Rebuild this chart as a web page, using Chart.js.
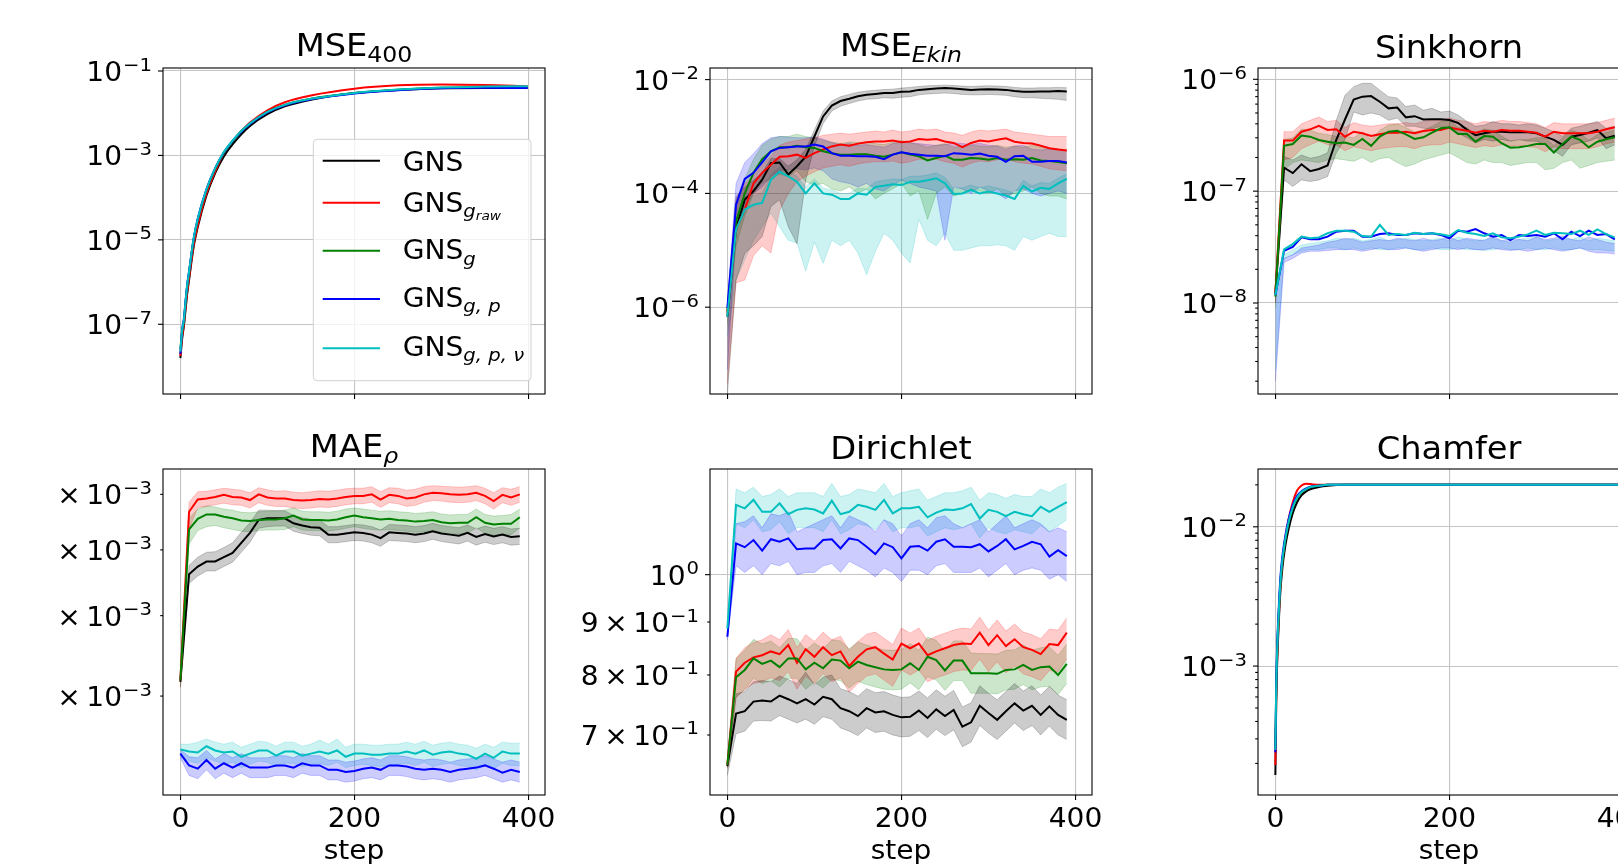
<!DOCTYPE html>
<html>
<head>
<meta charset="utf-8">
<script src="https://cdn.jsdelivr.net/npm/chart.js@4.4.0/dist/chart.umd.min.js"></script>
<style>
  html, body { margin: 0; padding: 0; background: #fff; width: 1618px; height: 864px; overflow: hidden; }
  canvas { position: absolute; }
</style>
</head>
<body>
<script>
// rollout steps (sampled every 10 steps)
const steps = [0, 10, 20, 30, 40, 50, 60, 70, 80, 90, 100, 110, 120, 130, 140, 150, 160, 170, 180, 190,
  200, 210, 220, 230, 240, 250, 260, 270, 280, 290, 300, 310, 320, 330, 340, 350, 360, 370, 380, 390];
const xTicks = [0, 200, 400];

// ---- MSE_400 (cumulative, smooth) ----
const mseSteps = [0, 2, 4, 6, 8, 10, 15, 20, 30, 40, 50, 60, 70, 80, 100, 120, 150, 200, 250, 300, 350, 399];
const mseGns = [1.58e-8, 4.47e-8, 8.9e-8, 2.24e-7, 5.6e-7, 1.12e-6, 6.3e-6, 2.0e-5, 1.12e-4, 3.8e-4, 9.5e-4, 1.82e-3, 3.16e-3, 5.0e-3, 9.5e-3, 1.45e-2, 2.09e-2, 3.02e-2, 3.55e-2, 3.9e-2, 3.98e-2, 3.98e-2];
const mseGraw = [1.78e-8, 5.0e-8, 1.0e-7, 2.5e-7, 6.3e-7, 1.26e-6, 7.1e-6, 2.24e-5, 1.26e-4, 4.2e-4, 1.12e-3, 2.19e-3, 3.8e-3, 6.0e-3, 1.17e-2, 1.82e-2, 2.63e-2, 3.8e-2, 4.57e-2, 4.79e-2, 4.68e-2, 4.37e-2];
const mseG = [2.6e-8, 6.8e-8, 1.2e-7, 3.4e-7, 8.5e-7, 1.7e-6, 9.5e-6, 3.0e-5, 1.5e-4, 4.8e-4, 1.15e-3, 2.15e-3, 3.7e-3, 5.6e-3, 1.06e-2, 1.57e-2, 2.2e-2, 3.0e-2, 3.6e-2, 4.0e-2, 4.15e-2, 4.2e-2];
const mseGp = [2.0e-8, 7.5e-8, 1.3e-7, 3.7e-7, 9.2e-7, 1.8e-6, 1.0e-5, 3.2e-5, 1.6e-4, 5.0e-4, 1.18e-3, 2.2e-3, 3.7e-3, 5.6e-3, 1.05e-2, 1.55e-2, 2.15e-2, 2.95e-2, 3.5e-2, 3.9e-2, 4.0e-2, 3.95e-2];
const mseGpn = [2.24e-8, 7.08e-8, 1.26e-7, 3.55e-7, 8.9e-7, 1.78e-6, 1.0e-5, 3.16e-5, 1.58e-4, 5.0e-4, 1.2e-3, 2.24e-3, 3.8e-3, 5.75e-3, 1.07e-2, 1.58e-2, 2.19e-2, 3.02e-2, 3.63e-2, 4.07e-2, 4.27e-2, 4.37e-2];

// ---- MSE_Ekin ----
const ekinGns = [6.8e-7, 2.45e-5, 7.8e-5, 1.1e-4, 1.74e-4, 3.4e-4, 3.5e-4, 2.15e-4, 3.0e-4, 4.4e-4, 1.0e-3, 2.25e-3, 3.5e-3, 4.2e-3, 4.6e-3, 5.1e-3, 5.4e-3, 5.6e-3, 5.8e-3, 5.8e-3, 6.1e-3, 6.2e-3, 6.6e-3, 6.8e-3, 7.0e-3, 7.1e-3, 7.0e-3, 6.8e-3, 6.6e-3, 6.7e-3, 6.8e-3, 6.7e-3, 6.6e-3, 6.3e-3, 6.1e-3, 6.1e-3, 6.2e-3, 6.2e-3, 6.3e-3, 6.2e-3];
const ekinGnsHi = [1.0e-6, 8.9e-5, 1.3e-4, 1.7e-4, 2.3e-4, 4.1e-4, 4.1e-4, 3.0e-4, 3.9e-4, 5.9e-4, 1.3e-3, 2.8e-3, 4.2e-3, 5.0e-3, 5.5e-3, 6.0e-3, 6.3e-3, 6.5e-3, 6.7e-3, 6.8e-3, 7.1e-3, 7.3e-3, 7.6e-3, 7.8e-3, 7.9e-3, 8.0e-3, 7.9e-3, 7.7e-3, 7.6e-3, 7.7e-3, 7.8e-3, 7.7e-3, 7.6e-3, 7.3e-3, 7.1e-3, 7.1e-3, 7.2e-3, 7.2e-3, 7.3e-3, 7.2e-3];
const ekinGnsLo = [3.0e-8, 3.0e-6, 8.9e-6, 1.2e-5, 1.75e-5, 5.9e-5, 7.7e-5, 2.6e-5, 1.3e-5, 1.7e-4, 6.7e-4, 1.7e-3, 2.8e-3, 3.4e-3, 3.8e-3, 4.2e-3, 4.5e-3, 4.6e-3, 4.8e-3, 4.7e-3, 4.9e-3, 5.0e-3, 5.4e-3, 5.6e-3, 5.7e-3, 5.8e-3, 5.7e-3, 5.5e-3, 5.4e-3, 5.4e-3, 5.5e-3, 5.4e-3, 5.3e-3, 5.0e-3, 4.8e-3, 4.8e-3, 4.7e-3, 4.6e-3, 4.5e-3, 4.3e-3];
const ekinGraw = [8.0e-7, 2.3e-5, 5.2e-5, 1.5e-4, 2.3e-4, 3.2e-4, 4.4e-4, 4.5e-4, 4.8e-4, 4.2e-4, 5.1e-4, 5.9e-4, 6.7e-4, 7.2e-4, 6.9e-4, 7.5e-4, 7.9e-4, 8.2e-4, 8.2e-4, 8.5e-4, 7.9e-4, 8.2e-4, 9.0e-4, 8.8e-4, 9.0e-4, 8.2e-4, 7.7e-4, 6.5e-4, 7.7e-4, 8.5e-4, 8.2e-4, 8.8e-4, 9.3e-4, 8.1e-4, 7.7e-4, 7.5e-4, 6.9e-4, 6.2e-4, 5.9e-4, 5.7e-4];
const ekinGrawHi = [1.0e-6, 7.8e-5, 1.5e-4, 2.0e-4, 3.2e-4, 4.5e-4, 7.0e-4, 8.0e-4, 8.5e-4, 9.0e-4, 9.5e-4, 1.05e-3, 1.1e-3, 1.15e-3, 1.1e-3, 1.15e-3, 1.2e-3, 1.25e-3, 1.2e-3, 1.3e-3, 1.2e-3, 1.25e-3, 1.35e-3, 1.3e-3, 1.35e-3, 1.2e-3, 1.15e-3, 1.05e-3, 1.2e-3, 1.3e-3, 1.25e-3, 1.3e-3, 1.35e-3, 1.2e-3, 1.15e-3, 1.1e-3, 1.05e-3, 1.0e-3, 1.0e-3, 1.0e-3];
const ekinGrawLo = [4.6e-8, 2.7e-6, 3.0e-6, 8.0e-6, 1.2e-5, 9.0e-6, 5.0e-5, 1.0e-4, 1.6e-4, 2.0e-4, 2.4e-4, 2.8e-4, 3.0e-4, 3.2e-4, 3.0e-4, 3.3e-4, 3.5e-4, 3.6e-4, 3.6e-4, 3.7e-4, 3.4e-4, 3.6e-4, 4.0e-4, 3.9e-4, 4.0e-4, 3.6e-4, 3.4e-4, 2.9e-4, 3.4e-4, 3.7e-4, 3.6e-4, 3.9e-4, 4.1e-4, 3.6e-4, 3.4e-4, 3.3e-4, 3.0e-4, 2.7e-4, 2.6e-4, 2.5e-4];
const ekinG = [8.5e-7, 3.2e-5, 1.0e-4, 2.3e-4, 4.0e-4, 5.5e-4, 6.5e-4, 6.5e-4, 6.9e-4, 6.5e-4, 6.3e-4, 5.5e-4, 5.1e-4, 4.8e-4, 4.8e-4, 4.9e-4, 4.9e-4, 4.6e-4, 4.4e-4, 4.8e-4, 5.3e-4, 4.8e-4, 4.5e-4, 3.8e-4, 4.2e-4, 4.6e-4, 3.9e-4, 3.9e-4, 4.2e-4, 4.1e-4, 3.9e-4, 4.2e-4, 3.9e-4, 4.0e-4, 3.9e-4, 4.2e-4, 3.8e-4, 3.7e-4, 3.55e-4, 3.4e-4];
const ekinGHi = [1.1e-6, 6.0e-5, 1.8e-4, 4.0e-4, 7.0e-4, 9.0e-4, 1.0e-3, 1.0e-3, 1.1e-3, 1.0e-3, 9.5e-4, 8.5e-4, 8.0e-4, 7.5e-4, 8.0e-4, 7.8e-4, 8.0e-4, 7.5e-4, 7.2e-4, 8.0e-4, 8.5e-4, 7.8e-4, 7.2e-4, 6.5e-4, 7.0e-4, 7.5e-4, 6.5e-4, 6.6e-4, 7.0e-4, 6.8e-4, 6.6e-4, 7.0e-4, 6.5e-4, 6.8e-4, 6.5e-4, 7.0e-4, 6.4e-4, 6.2e-4, 6.0e-4, 5.8e-4];
const ekinGLo = [5.0e-7, 1.2e-5, 4.0e-5, 1.0e-4, 1.5e-4, 1.8e-4, 2.2e-4, 2.0e-4, 2.5e-4, 1.6e-4, 1.4e-4, 1.5e-4, 1.2e-4, 1.1e-4, 1.3e-4, 1.0e-4, 1.2e-4, 8.0e-5, 1.0e-4, 1.2e-4, 1.5e-4, 9.0e-5, 1.1e-4, 3.5e-5, 1.0e-4, 1.3e-4, 9.0e-5, 1.0e-4, 1.2e-4, 1.1e-4, 1.0e-4, 1.2e-4, 9.0e-5, 1.0e-4, 1.1e-4, 1.3e-4, 1.0e-4, 9.0e-5, 9.0e-5, 8.0e-5];
const ekinGp = [9.6e-7, 6.3e-5, 1.8e-4, 2.3e-4, 3.5e-4, 5.5e-4, 6.3e-4, 6.5e-4, 6.7e-4, 6.7e-4, 7.2e-4, 6.7e-4, 5.1e-4, 4.6e-4, 4.6e-4, 4.5e-4, 4.5e-4, 4.4e-4, 4.0e-4, 4.8e-4, 5.3e-4, 5.0e-4, 4.8e-4, 4.6e-4, 4.6e-4, 4.5e-4, 5.1e-4, 5.0e-4, 4.8e-4, 5.0e-4, 4.6e-4, 4.4e-4, 3.6e-4, 4.5e-4, 4.6e-4, 3.6e-4, 3.6e-4, 3.7e-4, 3.7e-4, 3.5e-4];
const ekinGpHi = [1.2e-6, 1.5e-4, 3.5e-4, 5.0e-4, 7.5e-4, 9.5e-4, 1.0e-3, 9.8e-4, 9.5e-4, 9.5e-4, 9.8e-4, 9.0e-4, 7.8e-4, 7.2e-4, 7.5e-4, 7.0e-4, 7.2e-4, 6.8e-4, 6.5e-4, 7.5e-4, 8.0e-4, 7.8e-4, 7.5e-4, 7.2e-4, 7.0e-4, 7.2e-4, 7.8e-4, 7.5e-4, 7.2e-4, 7.6e-4, 7.0e-4, 6.8e-4, 6.0e-4, 6.8e-4, 7.0e-4, 6.0e-4, 5.8e-4, 6.0e-4, 6.0e-4, 5.8e-4];
const ekinGpLo = [8.0e-8, 2.0e-5, 6.0e-5, 1.0e-4, 1.3e-4, 2.0e-4, 2.5e-4, 2.6e-4, 2.7e-4, 2.6e-4, 2.8e-4, 2.5e-4, 1.8e-4, 1.6e-4, 1.5e-4, 1.3e-4, 1.5e-4, 1.2e-4, 1.1e-4, 1.4e-4, 1.7e-4, 1.5e-4, 1.3e-4, 1.2e-4, 1.1e-4, 1.5e-5, 1.3e-4, 1.2e-4, 1.0e-4, 1.3e-4, 1.1e-4, 1.0e-4, 8.0e-5, 1.1e-4, 1.2e-4, 1.0e-4, 9.0e-5, 1.0e-4, 1.1e-4, 1.0e-4];
const ekinGpn = [6.8e-7, 2.3e-5, 5.2e-5, 6.3e-5, 6.8e-5, 1.73e-4, 2.4e-4, 2.0e-4, 1.6e-4, 1.0e-4, 1.5e-4, 1.0e-4, 9.5e-5, 8.0e-5, 8.0e-5, 1.0e-4, 9.5e-5, 1.3e-4, 1.36e-4, 1.45e-4, 1.4e-4, 1.6e-4, 1.6e-4, 1.7e-4, 1.85e-4, 1.5e-4, 9.8e-5, 1.0e-4, 1.15e-4, 1.0e-4, 1.08e-4, 1.0e-4, 9.2e-5, 8.0e-5, 1.36e-4, 1.08e-4, 1.25e-4, 1.2e-4, 1.5e-4, 1.8e-4];
const ekinGpnHi = [9.0e-7, 3.5e-5, 7.0e-5, 9.0e-5, 1.0e-4, 2.1e-4, 2.9e-4, 2.5e-4, 2.0e-4, 1.3e-4, 1.8e-4, 1.25e-4, 1.15e-4, 1.0e-4, 1.0e-4, 1.25e-4, 1.2e-4, 1.6e-4, 1.7e-4, 1.8e-4, 1.75e-4, 2.0e-4, 2.0e-4, 2.1e-4, 2.3e-4, 1.9e-4, 1.2e-4, 1.25e-4, 1.4e-4, 1.25e-4, 1.35e-4, 1.25e-4, 1.15e-4, 1.0e-4, 1.7e-4, 1.35e-4, 1.55e-4, 1.5e-4, 1.85e-4, 2.2e-4];
const ekinGpnLo = [3.0e-7, 3.0e-6, 6.8e-6, 1.5e-5, 2.6e-5, 4.5e-5, 2.6e-5, 1.5e-5, 1.35e-5, 4.3e-6, 1.4e-5, 5.9e-6, 1.5e-5, 1.2e-5, 1.5e-5, 9.0e-6, 3.7e-6, 9.5e-6, 2.0e-5, 1.5e-5, 8.9e-6, 6.0e-6, 3.5e-5, 1.5e-5, 1.2e-5, 2.0e-5, 1.0e-5, 1.0e-5, 1.1e-5, 1.2e-5, 1.2e-5, 1.25e-5, 1.2e-5, 1.0e-5, 1.75e-5, 1.5e-5, 1.75e-5, 2.0e-5, 1.75e-5, 1.75e-5];

// ---- Sinkhorn ----
const sinkGns = [1.23e-8, 1.62e-7, 1.45e-7, 1.74e-7, 1.51e-7, 1.58e-7, 1.7e-7, 2.88e-7, 4.37e-7, 6.6e-7, 7.0e-7, 7.08e-7, 6.3e-7, 5.5e-7, 5.6e-7, 4.57e-7, 4.68e-7, 4.37e-7, 4.4e-7, 4.4e-7, 4.33e-7, 4.07e-7, 3.55e-7, 3.16e-7, 3.3e-7, 3.4e-7, 3.4e-7, 3.36e-7, 3.36e-7, 3.36e-7, 3.29e-7, 3.07e-7, 2.87e-7, 2.59e-7, 3.07e-7, 3.18e-7, 3.33e-7, 3.52e-7, 2.97e-7, 3.13e-7];
const sinkGnsHi = [1.4e-8, 2.04e-7, 1.9e-7, 2.1e-7, 1.97e-7, 2.04e-7, 2.2e-7, 4.3e-7, 7.2e-7, 8.6e-7, 9.2e-7, 9.2e-7, 8.0e-7, 7.0e-7, 6.8e-7, 5.7e-7, 5.9e-7, 5.3e-7, 5.5e-7, 5.1e-7, 5.2e-7, 4.8e-7, 4.2e-7, 3.8e-7, 3.9e-7, 4.2e-7, 4.0e-7, 4.0e-7, 3.9e-7, 4.0e-7, 3.9e-7, 3.65e-7, 3.4e-7, 3.1e-7, 3.65e-7, 3.8e-7, 4.0e-7, 4.2e-7, 3.65e-7, 3.8e-7];
const sinkGnsLo = [1.0e-8, 1.26e-7, 1.1e-7, 1.26e-7, 1.22e-7, 1.26e-7, 1.35e-7, 2.2e-7, 2.9e-7, 5.1e-7, 4.8e-7, 5.0e-7, 4.8e-7, 4.3e-7, 4.5e-7, 3.8e-7, 3.8e-7, 3.65e-7, 3.6e-7, 3.8e-7, 3.65e-7, 3.3e-7, 3.0e-7, 2.7e-7, 2.9e-7, 2.8e-7, 2.9e-7, 2.8e-7, 2.9e-7, 2.8e-7, 2.8e-7, 2.6e-7, 2.3e-7, 2.05e-7, 2.6e-7, 2.7e-7, 2.8e-7, 3.0e-7, 2.4e-7, 2.6e-7];
const sinkGraw = [1.22e-8, 2.83e-7, 2.83e-7, 3.4e-7, 3.57e-7, 3.83e-7, 3.52e-7, 3.57e-7, 3.07e-7, 3.4e-7, 3.29e-7, 3.11e-7, 3.22e-7, 3.33e-7, 3.33e-7, 3.4e-7, 3.29e-7, 3.45e-7, 3.52e-7, 3.52e-7, 3.7e-7, 3.57e-7, 3.47e-7, 3.33e-7, 3.47e-7, 3.4e-7, 3.52e-7, 3.47e-7, 3.47e-7, 3.4e-7, 3.33e-7, 3.07e-7, 3.4e-7, 3.29e-7, 3.29e-7, 3.29e-7, 3.29e-7, 3.4e-7, 3.57e-7, 3.72e-7];
const sinkGrawHi = [1.4e-8, 3.4e-7, 3.4e-7, 4.0e-7, 4.3e-7, 4.6e-7, 4.2e-7, 4.3e-7, 3.7e-7, 4.1e-7, 3.9e-7, 3.8e-7, 3.9e-7, 4.0e-7, 4.0e-7, 4.1e-7, 4.0e-7, 4.2e-7, 4.3e-7, 4.3e-7, 4.5e-7, 4.3e-7, 4.2e-7, 4.0e-7, 4.2e-7, 4.1e-7, 4.3e-7, 4.2e-7, 4.2e-7, 4.1e-7, 4.0e-7, 3.7e-7, 4.1e-7, 4.0e-7, 4.0e-7, 4.0e-7, 4.0e-7, 4.1e-7, 4.3e-7, 4.5e-7];
const sinkGrawLo = [1.0e-8, 1.9e-7, 2.0e-7, 2.4e-7, 2.6e-7, 2.8e-7, 2.6e-7, 2.6e-7, 2.3e-7, 2.5e-7, 2.4e-7, 2.3e-7, 2.4e-7, 2.45e-7, 2.5e-7, 2.5e-7, 2.4e-7, 2.55e-7, 2.6e-7, 2.6e-7, 2.75e-7, 2.65e-7, 2.55e-7, 2.45e-7, 2.55e-7, 2.5e-7, 2.6e-7, 2.55e-7, 2.55e-7, 2.5e-7, 2.45e-7, 2.25e-7, 2.5e-7, 2.4e-7, 2.4e-7, 2.4e-7, 2.4e-7, 2.5e-7, 2.65e-7, 2.75e-7];
const sinkG = [1.14e-8, 2.54e-7, 2.64e-7, 3.14e-7, 3.07e-7, 2.87e-7, 2.77e-7, 2.68e-7, 2.72e-7, 2.59e-7, 2.93e-7, 2.54e-7, 3.07e-7, 3.4e-7, 3.47e-7, 3.22e-7, 2.93e-7, 3.03e-7, 3.33e-7, 3.65e-7, 3.72e-7, 3.24e-7, 3.24e-7, 2.77e-7, 3.11e-7, 3.07e-7, 2.68e-7, 2.45e-7, 2.47e-7, 2.54e-7, 2.64e-7, 2.64e-7, 2.21e-7, 2.64e-7, 3.07e-7, 2.87e-7, 2.47e-7, 2.77e-7, 2.91e-7, 3.03e-7];
const sinkGHi = [1.3e-8, 2.9e-7, 3.0e-7, 3.6e-7, 3.5e-7, 3.3e-7, 3.2e-7, 3.1e-7, 3.1e-7, 3.0e-7, 3.4e-7, 2.9e-7, 3.5e-7, 3.9e-7, 4.0e-7, 3.7e-7, 3.4e-7, 3.5e-7, 3.8e-7, 4.2e-7, 4.3e-7, 3.7e-7, 3.7e-7, 3.2e-7, 3.6e-7, 3.5e-7, 3.1e-7, 2.8e-7, 2.85e-7, 2.9e-7, 3.0e-7, 3.0e-7, 2.55e-7, 3.0e-7, 3.5e-7, 3.3e-7, 2.85e-7, 3.2e-7, 3.35e-7, 3.5e-7];
const sinkGLo = [9.0e-9, 1.55e-7, 1.8e-7, 1.9e-7, 1.85e-7, 1.8e-7, 1.9e-7, 1.95e-7, 1.9e-7, 1.85e-7, 2.0e-7, 1.8e-7, 1.95e-7, 2.0e-7, 1.8e-7, 1.66e-7, 1.75e-7, 1.9e-7, 2.0e-7, 2.1e-7, 2.2e-7, 2.0e-7, 1.8e-7, 1.75e-7, 1.9e-7, 1.8e-7, 1.8e-7, 1.7e-7, 1.75e-7, 1.8e-7, 1.8e-7, 1.55e-7, 1.6e-7, 1.8e-7, 1.9e-7, 1.6e-7, 1.7e-7, 1.8e-7, 1.85e-7, 1.9e-7];
const sinkGp = [1.18e-8, 2.93e-8, 3.18e-8, 3.86e-8, 3.71e-8, 3.71e-8, 3.92e-8, 4.34e-8, 4.43e-8, 4.43e-8, 3.92e-8, 3.92e-8, 4.13e-8, 4.2e-8, 4.06e-8, 4.06e-8, 4.2e-8, 4.13e-8, 4.2e-8, 4.06e-8, 3.79e-8, 4.43e-8, 4.34e-8, 4.58e-8, 4.2e-8, 3.92e-8, 4.06e-8, 3.66e-8, 4.06e-8, 3.97e-8, 4.06e-8, 3.92e-8, 4.2e-8, 3.71e-8, 4.34e-8, 3.97e-8, 4.43e-8, 4.06e-8, 4.13e-8, 3.71e-8];
const sinkGpHi = [1.3e-8, 2.5e-8, 2.7e-8, 3.1e-8, 3.2e-8, 3.3e-8, 3.5e-8, 3.6e-8, 3.8e-8, 3.7e-8, 3.5e-8, 3.6e-8, 3.7e-8, 3.6e-8, 3.8e-8, 3.7e-8, 3.6e-8, 3.8e-8, 3.6e-8, 3.7e-8, 3.9e-8, 3.6e-8, 3.8e-8, 3.7e-8, 3.6e-8, 4.0e-8, 3.6e-8, 3.8e-8, 3.7e-8, 3.6e-8, 3.9e-8, 3.7e-8, 3.8e-8, 4.0e-8, 3.7e-8, 3.6e-8, 3.9e-8, 3.7e-8, 3.5e-8, 3.4e-8];
const sinkGpLo = [2.0e-9, 2.3e-8, 2.5e-8, 2.8e-8, 2.9e-8, 2.9e-8, 2.95e-8, 3.0e-8, 3.0e-8, 3.0e-8, 2.9e-8, 3.0e-8, 3.1e-8, 3.0e-8, 3.0e-8, 3.1e-8, 3.0e-8, 2.9e-8, 3.0e-8, 3.1e-8, 3.1e-8, 3.0e-8, 3.1e-8, 3.0e-8, 3.0e-8, 3.1e-8, 3.0e-8, 2.95e-8, 3.0e-8, 2.9e-8, 3.0e-8, 3.1e-8, 3.0e-8, 2.9e-8, 3.0e-8, 3.1e-8, 2.9e-8, 2.8e-8, 2.8e-8, 2.75e-8];
const sinkGpn = [1.18e-8, 3.01e-8, 3.36e-8, 3.92e-8, 3.79e-8, 3.86e-8, 4.2e-8, 4.43e-8, 4.43e-8, 4.34e-8, 3.97e-8, 3.92e-8, 5.0e-8, 4.06e-8, 4.13e-8, 4.06e-8, 4.25e-8, 4.13e-8, 4.2e-8, 4.11e-8, 3.97e-8, 4.49e-8, 4.25e-8, 4.13e-8, 3.97e-8, 4.2e-8, 3.86e-8, 3.79e-8, 3.92e-8, 4.11e-8, 4.43e-8, 4.06e-8, 4.25e-8, 4.2e-8, 4.13e-8, 4.43e-8, 4.06e-8, 4.55e-8, 4.13e-8, 3.86e-8];
const sinkGpnHi = [1.3e-8, 2.7e-8, 3.0e-8, 3.3e-8, 3.4e-8, 3.5e-8, 3.6e-8, 3.8e-8, 3.7e-8, 3.8e-8, 3.6e-8, 3.7e-8, 3.9e-8, 3.6e-8, 3.7e-8, 3.8e-8, 3.7e-8, 3.6e-8, 3.7e-8, 3.8e-8, 3.6e-8, 3.9e-8, 3.7e-8, 3.6e-8, 3.7e-8, 3.8e-8, 3.6e-8, 3.5e-8, 3.7e-8, 3.8e-8, 3.9e-8, 3.6e-8, 3.7e-8, 3.8e-8, 3.7e-8, 3.9e-8, 3.6e-8, 3.8e-8, 3.7e-8, 3.6e-8];
const sinkGpnLo = [2.5e-9, 2.5e-8, 2.7e-8, 2.9e-8, 3.0e-8, 3.0e-8, 3.1e-8, 3.1e-8, 3.0e-8, 3.1e-8, 3.0e-8, 3.1e-8, 3.0e-8, 3.0e-8, 3.1e-8, 3.1e-8, 3.0e-8, 3.0e-8, 3.1e-8, 3.0e-8, 3.0e-8, 3.1e-8, 3.0e-8, 3.0e-8, 2.95e-8, 3.0e-8, 3.1e-8, 3.0e-8, 3.0e-8, 3.1e-8, 3.0e-8, 3.0e-8, 3.1e-8, 3.0e-8, 3.0e-8, 3.1e-8, 3.0e-8, 3.0e-8, 2.95e-8, 2.9e-8];

// ---- MAE_rho ----
const maeGns = [4.16e-3, 5.61e-3, 5.73e-3, 5.81e-3, 5.81e-3, 5.88e-3, 5.95e-3, 6.12e-3, 6.29e-3, 6.52e-3, 6.55e-3, 6.55e-3, 6.55e-3, 6.46e-3, 6.42e-3, 6.39e-3, 6.38e-3, 6.26e-3, 6.26e-3, 6.28e-3, 6.3e-3, 6.29e-3, 6.26e-3, 6.2e-3, 6.3e-3, 6.29e-3, 6.28e-3, 6.26e-3, 6.28e-3, 6.32e-3, 6.28e-3, 6.26e-3, 6.24e-3, 6.29e-3, 6.22e-3, 6.27e-3, 6.23e-3, 6.26e-3, 6.22e-3, 6.23e-3];
const maeGnsHi = [4.22e-3, 5.75e-3, 5.88e-3, 5.96e-3, 5.97e-3, 6.04e-3, 6.12e-3, 6.3e-3, 6.47e-3, 6.7e-3, 6.7e-3, 6.69e-3, 6.69e-3, 6.6e-3, 6.56e-3, 6.53e-3, 6.52e-3, 6.4e-3, 6.4e-3, 6.42e-3, 6.44e-3, 6.43e-3, 6.4e-3, 6.34e-3, 6.44e-3, 6.43e-3, 6.42e-3, 6.4e-3, 6.42e-3, 6.46e-3, 6.42e-3, 6.4e-3, 6.38e-3, 6.43e-3, 6.36e-3, 6.41e-3, 6.37e-3, 6.4e-3, 6.36e-3, 6.37e-3];
const maeGnsLo = [4.1e-3, 5.47e-3, 5.58e-3, 5.66e-3, 5.66e-3, 5.73e-3, 5.8e-3, 5.96e-3, 6.13e-3, 6.37e-3, 6.4e-3, 6.41e-3, 6.41e-3, 6.32e-3, 6.28e-3, 6.25e-3, 6.24e-3, 6.12e-3, 6.12e-3, 6.14e-3, 6.16e-3, 6.15e-3, 6.12e-3, 6.06e-3, 6.16e-3, 6.15e-3, 6.14e-3, 6.12e-3, 6.14e-3, 6.18e-3, 6.14e-3, 6.12e-3, 6.1e-3, 6.15e-3, 6.08e-3, 6.13e-3, 6.09e-3, 6.12e-3, 6.08e-3, 6.09e-3];
const maeGraw = [4.18e-3, 6.67e-3, 6.9e-3, 6.92e-3, 6.95e-3, 6.99e-3, 6.95e-3, 6.94e-3, 6.89e-3, 7.0e-3, 6.94e-3, 6.92e-3, 6.92e-3, 6.89e-3, 6.88e-3, 6.89e-3, 6.91e-3, 6.9e-3, 6.92e-3, 6.95e-3, 6.97e-3, 6.97e-3, 7.0e-3, 6.9e-3, 6.99e-3, 6.97e-3, 6.92e-3, 6.94e-3, 7.0e-3, 7.03e-3, 7.02e-3, 7.0e-3, 6.99e-3, 7.0e-3, 7.03e-3, 6.97e-3, 6.87e-3, 6.99e-3, 6.94e-3, 7.0e-3];
const maeGrawHi = [4.25e-3, 6.85e-3, 7.05e-3, 7.06e-3, 7.09e-3, 7.12e-3, 7.1e-3, 7.08e-3, 7.03e-3, 7.13e-3, 7.09e-3, 7.06e-3, 7.07e-3, 7.04e-3, 7.03e-3, 7.05e-3, 7.07e-3, 7.06e-3, 7.08e-3, 7.11e-3, 7.12e-3, 7.12e-3, 7.15e-3, 7.05e-3, 7.13e-3, 7.12e-3, 7.08e-3, 7.1e-3, 7.15e-3, 7.17e-3, 7.16e-3, 7.15e-3, 7.14e-3, 7.15e-3, 7.17e-3, 7.12e-3, 7.03e-3, 7.13e-3, 7.1e-3, 7.15e-3];
const maeGrawLo = [4.1e-3, 6.35e-3, 6.75e-3, 6.77e-3, 6.8e-3, 6.83e-3, 6.8e-3, 6.79e-3, 6.74e-3, 6.84e-3, 6.79e-3, 6.77e-3, 6.77e-3, 6.74e-3, 6.73e-3, 6.74e-3, 6.76e-3, 6.75e-3, 6.77e-3, 6.8e-3, 6.82e-3, 6.82e-3, 6.85e-3, 6.75e-3, 6.84e-3, 6.82e-3, 6.77e-3, 6.79e-3, 6.85e-3, 6.88e-3, 6.87e-3, 6.85e-3, 6.84e-3, 6.85e-3, 6.88e-3, 6.82e-3, 6.72e-3, 6.84e-3, 6.79e-3, 6.85e-3];
const maeG = [4.18e-3, 6.35e-3, 6.54e-3, 6.62e-3, 6.62e-3, 6.58e-3, 6.55e-3, 6.51e-3, 6.5e-3, 6.52e-3, 6.53e-3, 6.53e-3, 6.55e-3, 6.6e-3, 6.53e-3, 6.52e-3, 6.52e-3, 6.51e-3, 6.53e-3, 6.57e-3, 6.6e-3, 6.57e-3, 6.55e-3, 6.53e-3, 6.54e-3, 6.52e-3, 6.51e-3, 6.49e-3, 6.5e-3, 6.52e-3, 6.48e-3, 6.46e-3, 6.47e-3, 6.47e-3, 6.57e-3, 6.47e-3, 6.44e-3, 6.45e-3, 6.45e-3, 6.57e-3];
const maeGHi = [4.25e-3, 6.55e-3, 6.72e-3, 6.78e-3, 6.76e-3, 6.72e-3, 6.7e-3, 6.66e-3, 6.65e-3, 6.67e-3, 6.68e-3, 6.69e-3, 6.7e-3, 6.74e-3, 6.68e-3, 6.67e-3, 6.67e-3, 6.66e-3, 6.68e-3, 6.72e-3, 6.74e-3, 6.72e-3, 6.7e-3, 6.68e-3, 6.69e-3, 6.67e-3, 6.66e-3, 6.64e-3, 6.65e-3, 6.67e-3, 6.63e-3, 6.61e-3, 6.62e-3, 6.62e-3, 6.72e-3, 6.62e-3, 6.59e-3, 6.6e-3, 6.62e-3, 6.72e-3];
const maeGLo = [4.1e-3, 6.1e-3, 6.33e-3, 6.4e-3, 6.42e-3, 6.38e-3, 6.35e-3, 6.32e-3, 6.31e-3, 6.33e-3, 6.34e-3, 6.34e-3, 6.35e-3, 6.4e-3, 6.34e-3, 6.33e-3, 6.33e-3, 6.32e-3, 6.34e-3, 6.37e-3, 6.4e-3, 6.37e-3, 6.35e-3, 6.34e-3, 6.35e-3, 6.33e-3, 6.32e-3, 6.3e-3, 6.31e-3, 6.33e-3, 6.29e-3, 6.27e-3, 6.28e-3, 6.28e-3, 6.38e-3, 6.28e-3, 6.25e-3, 6.26e-3, 6.26e-3, 6.38e-3];
const maeGp = [3.41e-3, 3.3e-3, 3.27e-3, 3.35e-3, 3.27e-3, 3.32e-3, 3.28e-3, 3.32e-3, 3.28e-3, 3.28e-3, 3.28e-3, 3.3e-3, 3.3e-3, 3.28e-3, 3.32e-3, 3.3e-3, 3.3e-3, 3.26e-3, 3.26e-3, 3.24e-3, 3.25e-3, 3.27e-3, 3.28e-3, 3.26e-3, 3.3e-3, 3.3e-3, 3.29e-3, 3.27e-3, 3.26e-3, 3.27e-3, 3.26e-3, 3.24e-3, 3.26e-3, 3.27e-3, 3.28e-3, 3.3e-3, 3.27e-3, 3.235e-3, 3.26e-3, 3.24e-3];
const maeGpHi = [3.45e-3, 3.38e-3, 3.37e-3, 3.44e-3, 3.36e-3, 3.41e-3, 3.37e-3, 3.41e-3, 3.37e-3, 3.37e-3, 3.37e-3, 3.39e-3, 3.39e-3, 3.37e-3, 3.41e-3, 3.39e-3, 3.39e-3, 3.35e-3, 3.35e-3, 3.33e-3, 3.34e-3, 3.36e-3, 3.37e-3, 3.35e-3, 3.39e-3, 3.39e-3, 3.38e-3, 3.36e-3, 3.35e-3, 3.36e-3, 3.35e-3, 3.33e-3, 3.35e-3, 3.36e-3, 3.37e-3, 3.39e-3, 3.36e-3, 3.33e-3, 3.35e-3, 3.33e-3];
const maeGpLo = [3.37e-3, 3.21e-3, 3.18e-3, 3.26e-3, 3.18e-3, 3.23e-3, 3.19e-3, 3.23e-3, 3.19e-3, 3.19e-3, 3.19e-3, 3.21e-3, 3.21e-3, 3.19e-3, 3.23e-3, 3.21e-3, 3.21e-3, 3.17e-3, 3.17e-3, 3.15e-3, 3.16e-3, 3.18e-3, 3.19e-3, 3.17e-3, 3.21e-3, 3.21e-3, 3.2e-3, 3.18e-3, 3.17e-3, 3.18e-3, 3.17e-3, 3.15e-3, 3.17e-3, 3.18e-3, 3.19e-3, 3.21e-3, 3.18e-3, 3.15e-3, 3.17e-3, 3.15e-3];
const maeGpn = [3.45e-3, 3.43e-3, 3.42e-3, 3.48e-3, 3.44e-3, 3.42e-3, 3.43e-3, 3.38e-3, 3.41e-3, 3.44e-3, 3.44e-3, 3.39e-3, 3.43e-3, 3.43e-3, 3.39e-3, 3.41e-3, 3.43e-3, 3.41e-3, 3.44e-3, 3.38e-3, 3.41e-3, 3.41e-3, 3.4e-3, 3.4e-3, 3.41e-3, 3.41e-3, 3.43e-3, 3.41e-3, 3.44e-3, 3.4e-3, 3.42e-3, 3.43e-3, 3.41e-3, 3.4e-3, 3.36e-3, 3.41e-3, 3.37e-3, 3.43e-3, 3.41e-3, 3.41e-3];
const maeGpnHi = [3.5e-3, 3.5e-3, 3.52e-3, 3.55e-3, 3.52e-3, 3.5e-3, 3.52e-3, 3.47e-3, 3.5e-3, 3.53e-3, 3.52e-3, 3.48e-3, 3.52e-3, 3.52e-3, 3.48e-3, 3.5e-3, 3.54e-3, 3.5e-3, 3.55e-3, 3.47e-3, 3.5e-3, 3.5e-3, 3.49e-3, 3.49e-3, 3.5e-3, 3.5e-3, 3.52e-3, 3.5e-3, 3.53e-3, 3.49e-3, 3.51e-3, 3.52e-3, 3.5e-3, 3.49e-3, 3.46e-3, 3.5e-3, 3.47e-3, 3.52e-3, 3.51e-3, 3.51e-3];
const maeGpnLo = [3.38e-3, 3.34e-3, 3.32e-3, 3.37e-3, 3.34e-3, 3.31e-3, 3.33e-3, 3.28e-3, 3.31e-3, 3.34e-3, 3.33e-3, 3.29e-3, 3.32e-3, 3.32e-3, 3.29e-3, 3.31e-3, 3.32e-3, 3.3e-3, 3.33e-3, 3.28e-3, 3.3e-3, 3.31e-3, 3.3e-3, 3.29e-3, 3.3e-3, 3.31e-3, 3.32e-3, 3.3e-3, 3.33e-3, 3.29e-3, 3.31e-3, 3.32e-3, 3.3e-3, 3.29e-3, 3.26e-3, 3.3e-3, 3.27e-3, 3.32e-3, 3.3e-3, 3.3e-3];

// ---- Dirichlet ----
const dirGns = [0.653, 0.734, 0.738, 0.754, 0.756, 0.754, 0.764, 0.758, 0.751, 0.758, 0.749, 0.762, 0.758, 0.743, 0.738, 0.73, 0.743, 0.736, 0.738, 0.732, 0.728, 0.729, 0.739, 0.727, 0.741, 0.73, 0.74, 0.713, 0.72, 0.747, 0.735, 0.724, 0.738, 0.751, 0.739, 0.747, 0.732, 0.746, 0.732, 0.724];
const dirGnsHi = [0.66, 0.767, 0.771, 0.788, 0.79, 0.788, 0.798, 0.792, 0.785, 0.805, 0.783, 0.796, 0.8, 0.776, 0.771, 0.763, 0.776, 0.769, 0.771, 0.765, 0.761, 0.762, 0.772, 0.76, 0.774, 0.763, 0.773, 0.745, 0.752, 0.781, 0.768, 0.757, 0.771, 0.785, 0.772, 0.781, 0.765, 0.78, 0.765, 0.757];
const dirGnsLo = [0.64, 0.702, 0.706, 0.722, 0.723, 0.722, 0.731, 0.725, 0.719, 0.725, 0.717, 0.729, 0.725, 0.711, 0.706, 0.699, 0.711, 0.704, 0.706, 0.7, 0.697, 0.698, 0.707, 0.696, 0.709, 0.699, 0.708, 0.682, 0.689, 0.715, 0.703, 0.693, 0.706, 0.719, 0.707, 0.715, 0.7, 0.714, 0.7, 0.693];
const dirGraw = [0.655, 0.806, 0.822, 0.832, 0.836, 0.843, 0.838, 0.855, 0.822, 0.847, 0.833, 0.851, 0.836, 0.843, 0.816, 0.833, 0.847, 0.851, 0.839, 0.828, 0.858, 0.849, 0.858, 0.836, 0.843, 0.849, 0.855, 0.858, 0.857, 0.879, 0.855, 0.874, 0.853, 0.866, 0.851, 0.846, 0.838, 0.857, 0.855, 0.879];
const dirGrawHi = [0.66, 0.83, 0.85, 0.86, 0.865, 0.875, 0.865, 0.885, 0.85, 0.875, 0.862, 0.88, 0.865, 0.872, 0.845, 0.862, 0.876, 0.88, 0.868, 0.856, 0.888, 0.878, 0.888, 0.864, 0.872, 0.878, 0.884, 0.888, 0.886, 0.91, 0.884, 0.904, 0.882, 0.896, 0.88, 0.875, 0.867, 0.886, 0.884, 0.908];
const dirGrawLo = [0.65, 0.76, 0.775, 0.785, 0.788, 0.795, 0.79, 0.806, 0.775, 0.798, 0.785, 0.802, 0.788, 0.795, 0.77, 0.785, 0.798, 0.802, 0.791, 0.78, 0.809, 0.8, 0.809, 0.788, 0.795, 0.8, 0.806, 0.809, 0.808, 0.829, 0.806, 0.824, 0.804, 0.816, 0.802, 0.797, 0.79, 0.808, 0.806, 0.829];
const dirG = [0.655, 0.796, 0.809, 0.83, 0.82, 0.826, 0.814, 0.83, 0.83, 0.81, 0.822, 0.812, 0.828, 0.826, 0.812, 0.824, 0.818, 0.814, 0.81, 0.809, 0.81, 0.821, 0.809, 0.833, 0.827, 0.808, 0.826, 0.826, 0.803, 0.803, 0.803, 0.802, 0.809, 0.81, 0.818, 0.809, 0.814, 0.815, 0.8, 0.82];
const dirGHi = [0.66, 0.83, 0.845, 0.866, 0.857, 0.863, 0.85, 0.868, 0.867, 0.846, 0.859, 0.848, 0.865, 0.863, 0.848, 0.861, 0.855, 0.85, 0.846, 0.845, 0.847, 0.858, 0.845, 0.87, 0.864, 0.844, 0.863, 0.863, 0.84, 0.839, 0.839, 0.838, 0.845, 0.846, 0.855, 0.845, 0.85, 0.852, 0.836, 0.857];
const dirGLo = [0.65, 0.762, 0.774, 0.794, 0.785, 0.79, 0.779, 0.794, 0.794, 0.775, 0.787, 0.777, 0.792, 0.79, 0.777, 0.789, 0.783, 0.779, 0.775, 0.774, 0.775, 0.786, 0.774, 0.797, 0.791, 0.773, 0.79, 0.79, 0.768, 0.768, 0.768, 0.767, 0.774, 0.775, 0.783, 0.774, 0.779, 0.78, 0.766, 0.785];
const dirGp = [0.871, 1.072, 1.063, 1.08, 1.055, 1.082, 1.076, 1.084, 1.058, 1.06, 1.06, 1.08, 1.082, 1.06, 1.084, 1.08, 1.064, 1.047, 1.072, 1.063, 1.037, 1.064, 1.066, 1.055, 1.076, 1.082, 1.064, 1.064, 1.063, 1.07, 1.053, 1.066, 1.082, 1.058, 1.066, 1.076, 1.07, 1.041, 1.056, 1.042];
const dirGpHi = [0.875, 1.12, 1.125, 1.14, 1.11, 1.145, 1.14, 1.15, 1.1, 1.11, 1.12, 1.13, 1.14, 1.11, 1.14, 1.13, 1.12, 1.1, 1.13, 1.12, 1.09, 1.12, 1.13, 1.11, 1.135, 1.14, 1.12, 1.11, 1.12, 1.13, 1.1, 1.12, 1.14, 1.11, 1.12, 1.13, 1.12, 1.1, 1.11, 1.1];
const dirGpLo = [0.865, 1.02, 1.005, 1.02, 1.0, 1.025, 1.02, 1.03, 1.0, 1.005, 1.005, 1.02, 1.025, 1.005, 1.03, 1.02, 1.01, 0.995, 1.015, 1.005, 0.985, 1.01, 1.01, 1.0, 1.02, 1.025, 1.005, 1.005, 1.005, 1.015, 0.995, 1.01, 1.025, 1.0, 1.01, 1.015, 1.01, 0.99, 1.0, 0.985];
const dirGpn = [0.887, 1.168, 1.159, 1.181, 1.15, 1.15, 1.172, 1.144, 1.155, 1.159, 1.156, 1.146, 1.179, 1.144, 1.15, 1.168, 1.163, 1.155, 1.181, 1.146, 1.159, 1.159, 1.163, 1.136, 1.148, 1.156, 1.155, 1.159, 1.17, 1.133, 1.155, 1.15, 1.139, 1.15, 1.144, 1.139, 1.163, 1.15, 1.163, 1.175];
const dirGpnHi = [0.89, 1.21, 1.2, 1.215, 1.19, 1.195, 1.21, 1.19, 1.2, 1.2, 1.2, 1.19, 1.225, 1.19, 1.195, 1.21, 1.205, 1.2, 1.225, 1.19, 1.2, 1.205, 1.21, 1.18, 1.19, 1.2, 1.2, 1.205, 1.215, 1.18, 1.2, 1.195, 1.185, 1.195, 1.19, 1.19, 1.21, 1.2, 1.215, 1.225];
const dirGpnLo = [0.885, 1.12, 1.11, 1.13, 1.1, 1.105, 1.125, 1.095, 1.11, 1.11, 1.11, 1.1, 1.13, 1.095, 1.105, 1.12, 1.115, 1.105, 1.13, 1.1, 1.11, 1.11, 1.115, 1.09, 1.1, 1.11, 1.105, 1.11, 1.12, 1.085, 1.11, 1.1, 1.095, 1.105, 1.1, 1.095, 1.115, 1.1, 1.115, 1.13];

// ---- Chamfer (smooth) ----
const chamSteps = [0, 1, 2, 4, 6, 8, 11, 15, 20, 25, 30, 35, 40, 50, 60, 80, 100, 200, 300, 399];
const chamGns = [1.65e-4, 5.5e-4, 1.0e-3, 2.1e-3, 3.6e-3, 5.0e-3, 7.0e-3, 9.5e-3, 1.25e-2, 1.5e-2, 1.68e-2, 1.79e-2, 1.86e-2, 1.93e-2, 1.97e-2, 2.0e-2, 2.0e-2, 2.0e-2, 2.0e-2, 2.0e-2];
const chamGraw = [1.95e-4, 6.0e-4, 1.1e-3, 2.3e-3, 4.0e-3, 5.6e-3, 8.0e-3, 1.12e-2, 1.5e-2, 1.82e-2, 1.98e-2, 2.04e-2, 2.03e-2, 2.0e-2, 2.0e-2, 2.0e-2, 2.0e-2, 2.0e-2, 2.0e-2, 2.0e-2];
const chamG = [2.6e-4, 7.0e-4, 1.25e-3, 2.5e-3, 4.2e-3, 5.7e-3, 7.8e-3, 1.06e-2, 1.37e-2, 1.61e-2, 1.77e-2, 1.86e-2, 1.92e-2, 1.97e-2, 2.0e-2, 2.0e-2, 2.0e-2, 2.0e-2, 2.0e-2, 2.0e-2];
const chamGp = [2.4e-4, 7.5e-4, 1.35e-3, 2.7e-3, 4.5e-3, 6.1e-3, 8.3e-3, 1.12e-2, 1.43e-2, 1.67e-2, 1.8e-2, 1.88e-2, 1.94e-2, 1.97e-2, 2.0e-2, 2.0e-2, 2.0e-2, 2.0e-2, 2.0e-2, 2.0e-2];
const chamGpn = [2.5e-4, 7.1e-4, 1.26e-3, 2.5e-3, 4.2e-3, 5.75e-3, 7.9e-3, 1.07e-2, 1.38e-2, 1.62e-2, 1.78e-2, 1.86e-2, 1.93e-2, 1.97e-2, 2.0e-2, 2.0e-2, 2.0e-2, 2.0e-2, 2.0e-2, 2.0e-2];

// ---- styling ----
const FONT = 'DejaVu Sans';
const TICK_PX = 26;
const TITLE_PX = 31.2;
const SX = 1.08;          // text is set slightly wide
const GRID = '#c4c4c4';
const KEYS = ['gns', 'graw', 'g', 'gp', 'gpn'];
const LINE = { gns: '#000000', graw: '#ff0000', g: '#008000', gp: '#0000ff', gpn: '#00bfbf' };
const SHADE = { gns: 'rgba(0,0,0,0.2)', graw: 'rgba(255,0,0,0.2)', g: 'rgba(0,128,0,0.2)', gp: 'rgba(0,0,255,0.2)', gpn: 'rgba(0,191,191,0.2)' };

// legend labels: pieces of [text, subscript level, italic]
const legendLabels = {
  gns: [['GNS', 0]],
  graw: [['GNS', 0], ['g', 1, true], ['raw', 2, true]],
  g: [['GNS', 0], ['g', 1, true]],
  gp: [['GNS', 0], ['g, p', 1, true]],
  gpn: [['GNS', 0], ['g, p, ν', 1, true]]
};

// plot-area geometry on the page
const COL_X = [163, 710, 1258];
const ROW_Y = [68, 469];
const PLOT_W = 382, PLOT_H = 326;
const PAD_L = 160, PAD_T = 60, PAD_R = 30, PAD_B = 72;

const minorsOf = (decades) => {
  const out = [];
  decades.forEach(d => { for (let m = 2; m <= 9; m++) out.push(m * d); });
  return out;
};

const panels = [
  {
    col: 0, row: 0, title: [['MSE', 0], ['400', 1]], xs: mseSteps, smooth: true, legend: true,
    yMin: 2.23e-9, yMax: 0.1178, majors: [1e-1, 1e-3, 1e-5, 1e-7], minors: [],
    labels: [[1e-1, '10', '−1'], [1e-3, '10', '−3'], [1e-5, '10', '−5'], [1e-7, '10', '−7']],
    series: { gns: { mean: mseGns }, graw: { mean: mseGraw }, g: { mean: mseG }, gp: { mean: mseGp }, gpn: { mean: mseGpn } }
  },
  {
    col: 1, row: 0, title: [['MSE', 0], ['Ekin', 1, true]], xs: steps,
    yMin: 2.98e-8, yMax: 1.6e-2, majors: [1e-2, 1e-4, 1e-6], minors: [],
    labels: [[1e-2, '10', '−2'], [1e-4, '10', '−4'], [1e-6, '10', '−6']],
    series: {
      gns: { mean: ekinGns, lo: ekinGnsLo, hi: ekinGnsHi }, graw: { mean: ekinGraw, lo: ekinGrawLo, hi: ekinGrawHi },
      g: { mean: ekinG, lo: ekinGLo, hi: ekinGHi }, gp: { mean: ekinGp, lo: ekinGpLo, hi: ekinGpHi },
      gpn: { mean: ekinGpn, lo: ekinGpnLo, hi: ekinGpnHi }
    }
  },
  {
    col: 2, row: 0, title: [['Sinkhorn', 0]], xs: steps,
    yMin: 1.536e-9, yMax: 1.262e-6, majors: [1e-6, 1e-7, 1e-8], minors: minorsOf([1e-9, 1e-8, 1e-7]),
    labels: [[1e-6, '10', '−6'], [1e-7, '10', '−7'], [1e-8, '10', '−8']],
    series: {
      gns: { mean: sinkGns, lo: sinkGnsLo, hi: sinkGnsHi }, graw: { mean: sinkGraw, lo: sinkGrawLo, hi: sinkGrawHi },
      g: { mean: sinkG, lo: sinkGLo, hi: sinkGHi }, gp: { mean: sinkGp, lo: sinkGpLo, hi: sinkGpHi },
      gpn: { mean: sinkGpn, lo: sinkGpnLo, hi: sinkGpnHi }
    }
  },
  {
    col: 0, row: 1, title: [['MAE', 0], ['ρ', 1, true]], xs: steps,
    yMin: 3.04e-3, yMax: 7.51e-3, majors: [], minors: [4e-3, 5e-3, 6e-3, 7e-3],
    labels: [[7e-3, '×\u200910', '−3'], [6e-3, '×\u200910', '−3'], [5e-3, '×\u200910', '−3'], [4e-3, '×\u200910', '−3']],
    series: {
      gns: { mean: maeGns, lo: maeGnsLo, hi: maeGnsHi }, graw: { mean: maeGraw, lo: maeGrawLo, hi: maeGrawHi },
      g: { mean: maeG, lo: maeGLo, hi: maeGHi }, gp: { mean: maeGp, lo: maeGpLo, hi: maeGpHi },
      gpn: { mean: maeGpn, lo: maeGpnLo, hi: maeGpnHi }
    }
  },
  {
    col: 1, row: 1, title: [['Dirichlet', 0]], xs: steps,
    yMin: 0.6125, yMax: 1.265, majors: [1], minors: [0.7, 0.8, 0.9],
    labels: [[1, '10', '0'], [0.9, '9\u2009×\u200910', '−1'], [0.8, '8\u2009×\u200910', '−1'], [0.7, '7\u2009×\u200910', '−1']],
    series: {
      gns: { mean: dirGns, lo: dirGnsLo, hi: dirGnsHi }, graw: { mean: dirGraw, lo: dirGrawLo, hi: dirGrawHi },
      g: { mean: dirG, lo: dirGLo, hi: dirGHi }, gp: { mean: dirGp, lo: dirGpLo, hi: dirGpHi },
      gpn: { mean: dirGpn, lo: dirGpnLo, hi: dirGpnHi }
    }
  },
  {
    col: 2, row: 1, title: [['Chamfer', 0]], xs: chamSteps, smooth: true,
    yMin: 1.186e-4, yMax: 2.6e-2, majors: [1e-2, 1e-3], minors: minorsOf([1e-4, 1e-3]).concat([2e-2]),
    labels: [[1e-2, '10', '−2'], [1e-3, '10', '−3']],
    series: { gns: { mean: chamGns }, graw: { mean: chamGraw }, g: { mean: chamG }, gp: { mean: chamGp }, gpn: { mean: chamGpn } }
  }
];

const fontStr = (px, italic) => (italic ? 'italic ' : '') + px + 'px "' + FONT + '"';

// text drawn with a slight horizontal stretch, anchored at its left end
function textAt(ctx, t, x, y) {
  ctx.save();
  ctx.translate(x, y);
  ctx.scale(SX, 1);
  ctx.textAlign = 'left';
  ctx.textBaseline = 'alphabetic';
  ctx.fillText(t, 0, 0);
  ctx.restore();
}
const widthOf = (ctx, t) => ctx.measureText(t).width * SX;

// pieces [text, level, italic]; level 1 = subscript, 2 = sub-subscript
function drawPieces(ctx, pieces, x, base, px, align) {
  const parts = pieces.map(([t, lvl, it]) => {
    const size = px * Math.pow(0.7, lvl || 0);
    const drop = lvl === 1 ? px * 0.2 : lvl === 2 ? px * 0.2 + px * 0.7 * 0.18 : 0;
    ctx.font = fontStr(size, it);
    return { t, size, it, drop, w: widthOf(ctx, t) };
  });
  const total = parts.reduce((s, p) => s + p.w, 0);
  let cx = align === 'center' ? x - total / 2 : align === 'right' ? x - total : x;
  parts.forEach(p => {
    ctx.font = fontStr(p.size, p.it);
    textAt(ctx, p.t, cx, base + p.drop);
    cx += p.w;
  });
}

function drawLegend(ctx, a) {
  const L = a.left + 150.3, T = a.top + 71.3, R = a.left + 368, B = a.top + 312.7, r = 4;
  ctx.save();
  ctx.beginPath();
  ctx.moveTo(L + r, T); ctx.lineTo(R - r, T); ctx.quadraticCurveTo(R, T, R, T + r);
  ctx.lineTo(R, B - r); ctx.quadraticCurveTo(R, B, R - r, B);
  ctx.lineTo(L + r, B); ctx.quadraticCurveTo(L, B, L, B - r);
  ctx.lineTo(L, T + r); ctx.quadraticCurveTo(L, T, L + r, T);
  ctx.closePath();
  ctx.fillStyle = 'rgba(255,255,255,0.8)';
  ctx.fill();
  ctx.strokeStyle = '#d0d0d0';
  ctx.lineWidth = 1;
  ctx.stroke();
  const lineY = [92.7, 134.7, 182.7, 231, 280.3];
  const baseY = [102.7, 143.7, 191.3, 238.7, 287.7];
  KEYS.forEach((k, i) => {
    ctx.strokeStyle = LINE[k];
    ctx.lineWidth = 2;
    ctx.beginPath();
    ctx.moveTo(a.left + 159.7, a.top + lineY[i]);
    ctx.lineTo(a.left + 217, a.top + lineY[i]);
    ctx.stroke();
    ctx.fillStyle = '#000';
    drawPieces(ctx, legendLabels[k], a.left + 239.7, a.top + baseY[i], TICK_PX, 'left');
  });
  ctx.restore();
}

function panelPlugin(p) {
  return {
    id: 'panelDecor',
    afterDraw(chart) {
      const { ctx, chartArea: a } = chart;
      const x = chart.scales.x;
      const y = chart.scales.y;
      ctx.save();
      // axes frame
      ctx.strokeStyle = '#000';
      ctx.lineWidth = 1.1;
      ctx.strokeRect(a.left, a.top, a.right - a.left, a.bottom - a.top);
      // y tick marks
      const tick = (v, len) => {
        const py = y.getPixelForValue(v);
        ctx.beginPath();
        ctx.moveTo(a.left - len, py);
        ctx.lineTo(a.left, py);
        ctx.stroke();
      };
      p.majors.forEach(v => tick(v, 5));
      p.minors.forEach(v => { if (v > p.yMin && v < p.yMax) tick(v, 2.8); });
      ctx.fillStyle = '#000';
      // y tick labels with superscript exponent
      p.labels.forEach(([v, mant, exp]) => {
        const py = y.getPixelForValue(v);
        const right = a.left - 11;
        ctx.font = fontStr(TICK_PX * 0.7);
        const we = widthOf(ctx, exp);
        ctx.font = fontStr(TICK_PX);
        const wm = widthOf(ctx, mant);
        const x0 = right - we - wm - 1;
        textAt(ctx, mant, x0, py + 10);
        ctx.font = fontStr(TICK_PX * 0.7);
        textAt(ctx, exp, x0 + wm + 1, py - 0.5);
      });
      // x tick labels and axis label on the bottom row
      if (p.row === 1) {
        ctx.font = fontStr(TICK_PX);
        xTicks.forEach(v => {
          const t = String(v);
          textAt(ctx, t, x.getPixelForValue(v) - widthOf(ctx, t) / 2, a.bottom + 31.7);
        });
        const mid = (a.left + a.right) / 2;
        textAt(ctx, 'step', mid - widthOf(ctx, 'step') / 2, a.bottom + 63.5);
      }
      // panel title
      const hasSub = p.title.length > 1;
      drawPieces(ctx, p.title, (a.left + a.right) / 2, a.top - (hasSub ? 12.3 : 9.7), TITLE_PX, 'center');
      if (p.legend) drawLegend(ctx, a);
      ctx.restore();
    }
  };
}

function xy(xs, ys) {
  return ys.map((v, i) => ({ x: xs[i], y: v }));
}

function buildDatasets(p) {
  const out = [];
  KEYS.forEach(k => {
    const s = p.series[k];
    if (!s.lo) return;
    out.push({ data: xy(p.xs, s.lo), borderColor: SHADE[k], borderWidth: 1, fill: false, order: 20 });
    out.push({ data: xy(p.xs, s.hi), borderColor: SHADE[k], borderWidth: 1, backgroundColor: SHADE[k], fill: '-1', order: 20 });
  });
  KEYS.forEach((k, i) => {
    out.push({
      data: xy(p.xs, p.series[k].mean), borderColor: LINE[k], borderWidth: 2, fill: false, order: 10 - i,
      cubicInterpolationMode: p.smooth ? 'monotone' : 'default'
    });
  });
  return out;
}

panels.forEach(p => {
  const c = document.createElement('canvas');
  c.width = PAD_L + PLOT_W + PAD_R;
  c.height = PAD_T + PLOT_H + PAD_B;
  c.style.left = (COL_X[p.col] - PAD_L) + 'px';
  c.style.top = (ROW_Y[p.row] - PAD_T) + 'px';
  document.body.appendChild(c);

  new Chart(c, {
    type: 'line',
    data: { datasets: buildDatasets(p) },
    options: {
      responsive: false,
      animation: false,
      devicePixelRatio: 1,
      layout: { autoPadding: false, padding: { left: 0, top: PAD_T, right: PAD_R, bottom: 0 } },
      elements: { point: { radius: 0 }, line: { tension: 0 } },
      plugins: { legend: { display: false }, tooltip: { enabled: false } },
      scales: {
        x: {
          type: 'linear', min: -19.95, max: 418.95,
          afterBuildTicks: s => { s.ticks = xTicks.map(v => ({ value: v })); },
          afterFit: s => { s.height = PAD_B; s.paddingLeft = 0; s.paddingRight = 0; },
          border: { display: false },
          grid: { color: GRID, lineWidth: 1.1, tickColor: '#000', tickLength: 5, tickWidth: 1.1 },
          ticks: { display: false }
        },
        y: {
          type: 'logarithmic', min: p.yMin, max: p.yMax,
          afterBuildTicks: s => { s.ticks = p.majors.map(v => ({ value: v, major: true })); },
          afterFit: s => { s.width = PAD_L; s.paddingTop = 0; s.paddingBottom = 0; },
          border: { display: false },
          grid: { color: GRID, lineWidth: 1.1, drawTicks: false },
          ticks: { display: false }
        }
      }
    },
    plugins: [panelPlugin(p)]
  });
});
</script>
</body>
</html>
